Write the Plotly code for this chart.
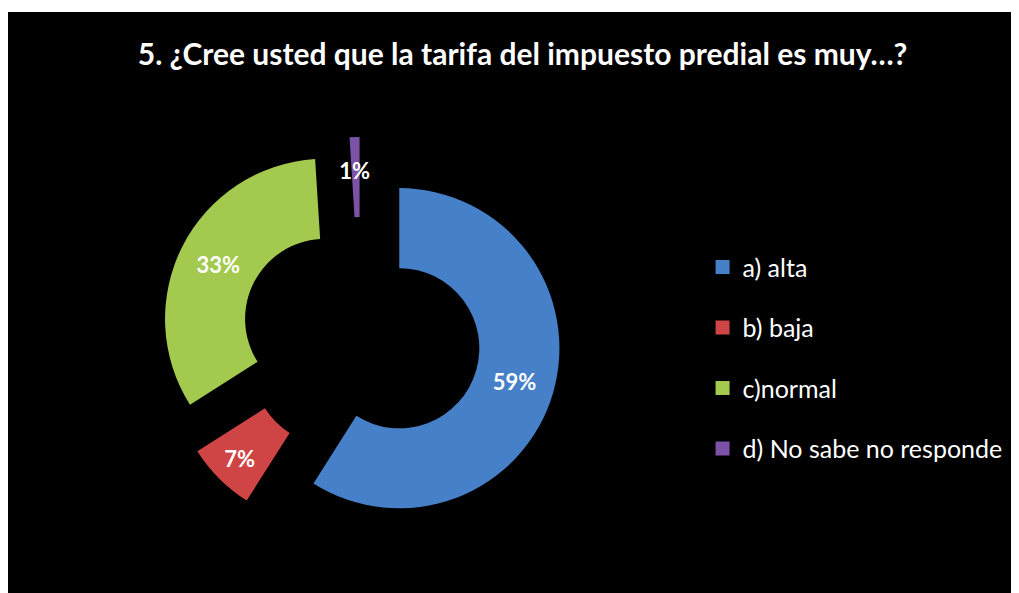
import plotly.graph_objects as go

# Survey answers (percent)
labels = ['a) alta', 'b) baja', 'c)normal', 'd) No sabe no responde']
values = [59, 7, 33, 1]
colors = ['#4680c8', '#cf4444', '#a3c94e', '#7b52a6']
title_text = '5. ¿Cree usted que la tarifa del impuesto predial es muy…?'

# tiny slices: pad the label so plotly drops it toward the ring middle
slice_text = [f'{v}%' if v >= 5 else '\u00a0<br>\u00a0<br>' + f'{v}%' for v in values]

fig = go.Figure()

# Exploded donut
fig.add_trace(go.Pie(
    labels=labels,
    values=values,
    text=slice_text,
    hole=0.5,
    sort=False,
    direction='clockwise',
    rotation=0,
    pull=[0.25] * len(values),
    marker=dict(colors=colors, line=dict(width=0)),
    texttemplate='%{text}',
    textposition='inside',
    insidetextorientation='horizontal',
    textfont=dict(family='Lato', size=22, color='white', weight='bold'),
    domain=dict(x=[0.151, 0.547], y=[0.096, 0.785]),
    showlegend=False,
    hoverinfo='label+percent'
))

# Legend entries (separate groups so the spacing can be widened)
for i, (lab, col) in enumerate(zip(labels, colors)):
    fig.add_trace(go.Scatter(
        x=[None], y=[None],
        mode='markers',
        marker=dict(symbol='square', size=14, color=col),
        name=lab,
        legendgroup=f'g{i}',
        showlegend=True
    ))

fig.update_layout(
    width=1011,
    height=585,
    margin=dict(l=0, r=0, t=4, b=0),
    paper_bgcolor='white',
    plot_bgcolor='black',
    title=dict(
        text=title_text,
        x=0.509, xanchor='center',
        y=0.92, yanchor='middle',
        font=dict(family='Lato', size=30, color='white', weight='bold')
    ),
    legend=dict(
        x=0.687, xanchor='left',
        y=0.405, yanchor='middle',
        font=dict(family='Lato', size=25, color='white'),
        tracegroupgap=25,
        bgcolor='rgba(0,0,0,0)'
    ),
    uniformtext=dict(minsize=22, mode='show'),
    xaxis=dict(visible=False),
    yaxis=dict(visible=False),
    shapes=[dict(
        type='rect', xref='paper', yref='paper',
        x0=0, x1=1, y0=0, y1=1,
        fillcolor='black', line=dict(width=0), layer='below'
    )]
)

fig.write_html("out.html")
